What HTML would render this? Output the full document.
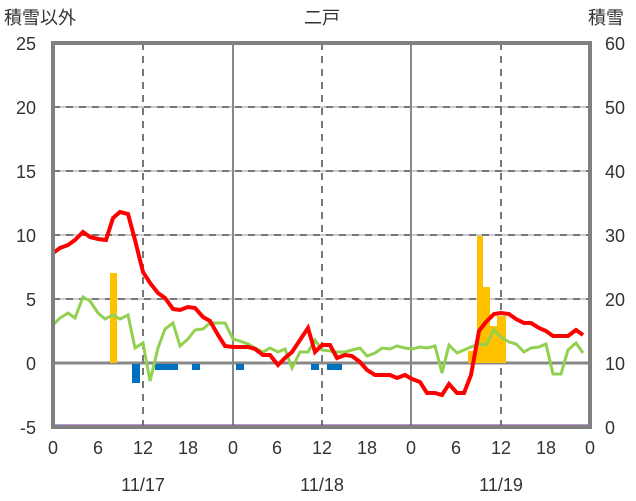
<!DOCTYPE html><html><head><style>body{margin:0;background:#fff}svg{display:block}text{font-family:"Liberation Sans","Noto Sans CJK JP",sans-serif;font-size:18px;fill:#333}</style></head><body>
<svg width="636" height="501" viewBox="0 0 636 501">
<g stroke="#bbb" stroke-width="1.5"><line x1="53" x2="590" y1="107" y2="107"/><line x1="53" x2="590" y1="171" y2="171"/><line x1="53" x2="590" y1="235" y2="235"/><line x1="53" x2="590" y1="299" y2="299"/></g>
<g stroke="#777" stroke-width="2" stroke-dasharray="7,6"><line x1="53" x2="590" y1="107" y2="107"/><line x1="53" x2="590" y1="171" y2="171"/><line x1="53" x2="590" y1="235" y2="235"/><line x1="53" x2="590" y1="299" y2="299"/><line x1="143" x2="143" y1="43" y2="427"/><line x1="322" x2="322" y1="43" y2="427"/><line x1="501" x2="501" y1="43" y2="427"/></g>
<g stroke="#888" stroke-width="2"><line x1="233" x2="233" y1="43" y2="427"/><line x1="411" x2="411" y1="43" y2="427"/><line x1="53" x2="590" y1="363" y2="363" stroke-width="3"/></g>
<g fill="#ffc000"><rect x="110" y="273" width="7" height="90"/><rect x="468" y="351" width="9" height="12"/><rect x="477" y="236" width="6" height="127"/><rect x="483" y="287" width="7" height="76"/><rect x="490" y="326" width="7" height="37"/><rect x="497" y="316" width="9" height="47"/></g>
<g fill="#0070c0"><rect x="132" y="364" width="8" height="19"/><rect x="155" y="364" width="23" height="6"/><rect x="192" y="364" width="8" height="6"/><rect x="236" y="364" width="8" height="6"/><rect x="311" y="364" width="8" height="6"/><rect x="327" y="364" width="15" height="6"/></g>
<polyline fill="none" stroke="#92d050" stroke-width="3" points="53,325 60,318 68,313 75,318 83,297 90,301 98,313 105,319 113,315 120,319 128,315 135,348 143,343 150,381 158,348 165,329 173,323 180,346 188,339 195,330 203,329 210,323 218,323 225,323 233,339 240,341 248,344 255,348 263,352 270,348 278,352 285,349 292,368 300,352 308,352 315,340 322,350 330,351 337,352 345,352 352,350 360,348 367,356 375,353 382,348 390,349 397,346 405,348 412,349 420,347 427,348 435,346 442,373 449,345 457,353 464,350 471,347 479,344 486,345 494,330 501,337 509,342 516,344 524,352 531,348 539,347 546,344 553,374 561,374 568,350 576,343 583,353"/>
<polyline fill="none" stroke="#ff0000" stroke-width="4" points="53,253 60,248 68,245 75,240 83,232 90,237 98,239 106,240 113,218 120,212 128,214 135,240 143,272 150,283 158,293 165,298 173,309 180,310 188,307 195,308 203,317 210,321 218,335 225,346 233,347 240,347 248,347 255,349 263,355 270,355 278,365 285,358 292,352 300,340 308,328 315,352 322,345 330,345 337,358 345,355 352,356 360,362 367,370 375,375 382,375 390,375 397,378 405,375 412,379 420,382 427,393 435,393 442,395 449,384 457,393 464,393 471,375 479,331 486,322 494,314 501,313 509,314 516,319 524,323 531,323 539,328 546,331 553,336 561,336 568,336 576,330 583,335"/>
<line x1="53" x2="590" y1="426" y2="426" stroke="#7030a0" stroke-width="3"/>
<rect x="53" y="43" width="537" height="384" fill="none" stroke="#808080" stroke-width="4"/>
<g text-anchor="end"><text x="36" y="50">25</text><text x="36" y="114">20</text><text x="36" y="178">15</text><text x="36" y="242">10</text><text x="36" y="306">5</text><text x="36" y="370">0</text><text x="36" y="434">-5</text></g>
<g text-anchor="start"><text x="605" y="50">60</text><text x="605" y="114">50</text><text x="605" y="178">40</text><text x="605" y="242">30</text><text x="605" y="306">20</text><text x="605" y="370">10</text><text x="605" y="434">0</text></g>
<g text-anchor="middle"><text x="53" y="454">0</text><text x="98" y="454">6</text><text x="143" y="454">12</text><text x="188" y="454">18</text><text x="233" y="454">0</text><text x="277" y="454">6</text><text x="322" y="454">12</text><text x="367" y="454">18</text><text x="411" y="454">0</text><text x="456" y="454">6</text><text x="501" y="454">12</text><text x="546" y="454">18</text><text x="590" y="454">0</text>
<text x="143" y="491">11/17</text><text x="322" y="491">11/18</text><text x="501" y="491">11/19</text><text x="322" y="24">二戸</text></g>
<text x="4" y="24">積雪以外</text><text x="588" y="24">積雪</text>
</svg></body></html>
